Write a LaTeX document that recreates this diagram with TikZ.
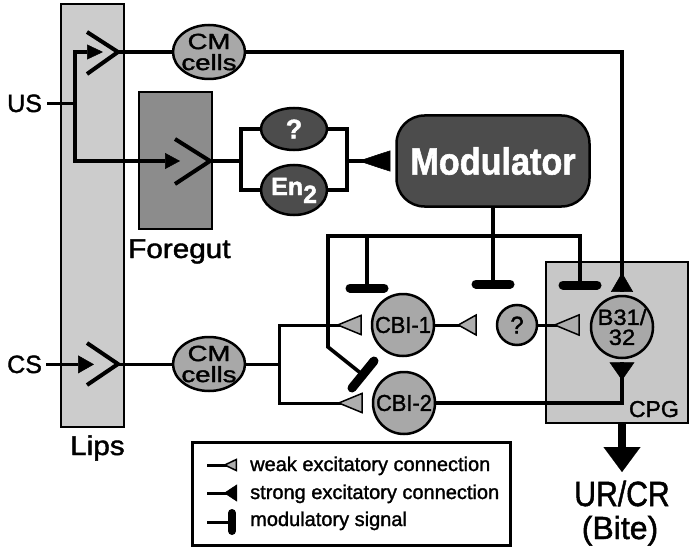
\documentclass[tikz,border=0pt]{standalone}
\usepackage{fontspec}
\setmainfont{Liberation Sans}[FakeBold=1.5]
\usetikzlibrary{arrows.meta,shapes.geometric}
\definecolor{lipsfill}{gray}{0.80}
\definecolor{cpgfill}{gray}{0.78}
\definecolor{foregutfill}{gray}{0.55}
\definecolor{cellfill}{gray}{0.66}
\definecolor{darkfill}{gray}{0.30}
\definecolor{weakfill}{gray}{0.68}
\tikzset{
  wire/.style={line width=3.6pt},
  thinwire/.style={line width=3pt},
  areabox/.style={draw, line width=2.5pt, inner sep=0pt},
  cell/.style={circle, draw, line width=2.5pt, fill=cellfill, inner sep=0pt},
  ovalcell/.style={ellipse, draw, line width=2.5pt, inner sep=0pt},
  celltext/.style={inner sep=0pt, align=center},
  lbl/.style={inner sep=0pt},
  weaksyn/.style 2 args={postaction={draw, -{Triangle[reversed, length=#1, width=#2, fill=weakfill, line width=1.5pt]}}},
  strongsyn/.style 2 args={postaction={draw, -{Triangle[reversed, length=#1, width=#2, line width=0.5pt]}}},
  feed/.style 2 args={-{Triangle[length=#1, width=#2, line width=0.5pt]}},
  modbar/.style={line width=9pt, line cap=round},
  chev/.style={line width=4pt},
}
\begin{document}
\begin{tikzpicture}[x=1pt,y=-1pt]
\useasboundingbox (0,0) rectangle (695,548);

% ---- areas
\node[areabox, fill=lipsfill, minimum width=63pt, minimum height=423pt] (lips) at (92.5,215.5) {};
\node[areabox, fill=foregutfill, minimum width=73pt, minimum height=137pt] (foregut) at (175.5,160.5) {};
\node[areabox, fill=cpgfill, minimum width=142pt, minimum height=161pt] (cpg) at (617,342.5) {};
\node[areabox, line width=3pt, minimum width=318pt, minimum height=103pt] (legend) at (351,493.5) {};

% ---- labels
\node[lbl, anchor=base west, font=\fontsize{25}{25}\selectfont] (ustxt) at (7,112) {US};
\node[lbl, anchor=base west, font=\fontsize{25}{25}\selectfont] (cstxt) at (7,373) {CS};
\node[lbl, anchor=base west, font=\fontsize{27}{27}\selectfont] (lipstxt) at (70,455) {\scalebox{1.1}[1]{Lips}};
\node[lbl, anchor=base west, font=\fontsize{27}{27}\selectfont] (fgtxt) at (128,258) {\scalebox{1.1}[1]{Foregut}};
\node[lbl, anchor=base east, font=\fontsize{23}{23}\selectfont] (cpgtxt) at (679,417) {CPG};
\node[lbl, anchor=base, font=\fontsize{35}{35}\selectfont] (urcr) at (622,506) {\scalebox{0.86}[1]{UR/CR}};
\node[lbl, anchor=base, font=\fontsize{32}{32}\selectfont] (bite) at (620,539) {(Bite)};

% ---- cells
\node[ovalcell, fill=cellfill, minimum width=72pt, minimum height=54pt] (cmtop) at (209,52) {};
\node[celltext, font=\fontsize{22}{21}\selectfont] (cmtoptxt) at (cmtop) {\scalebox{1.25}[1]{CM}\\\scalebox{1.25}[1]{cells}};
\node[ovalcell, fill=cellfill, minimum width=72pt, minimum height=54pt] (cmbot) at (209,364) {};
\node[celltext, font=\fontsize{22}{21}\selectfont] (cmbottxt) at (cmbot) {\scalebox{1.25}[1]{CM}\\\scalebox{1.25}[1]{cells}};

\node[ovalcell, fill=darkfill, minimum width=66pt, minimum height=42pt] (q1) at (294,129) {};
\node[celltext, text=white, font=\fontsize{27}{27}\selectfont\bfseries] (q1txt) at (q1) {?};
\node[ovalcell, fill=darkfill, minimum width=66pt, minimum height=50pt] (en2) at (294,190) {};
\node[lbl, anchor=base west, text=white, font=\fontsize{25}{25}\selectfont\bfseries] (en2txt) at (271,195) {En\raisebox{-8pt}{2}};

\node[draw, rounded corners=28pt, line width=2.5pt, fill=darkfill, minimum width=193pt, minimum height=91pt, inner sep=0pt, text=white, font=\fontsize{38}{38}\selectfont\bfseries] (mod) at (493,161) {\scalebox{0.9}[1]{Modulator}};

\node[cell, minimum size=62pt] (cbi1) at (403,325) {};
\node[celltext, font=\fontsize{23}{23}\selectfont] (cbi1txt) at (cbi1) {\scalebox{0.95}[1]{CBI-1}};
\node[cell, minimum size=62pt] (cbi2) at (404,403) {};
\node[celltext, font=\fontsize{23}{23}\selectfont] (cbi2txt) at (cbi2) {\scalebox{0.95}[1]{CBI-2}};
\node[cell, minimum size=40pt] (q2) at (517,325) {};
\node[celltext, font=\fontsize{24}{24}\selectfont] (q2txt) at (q2) {?};
\node[cell, minimum size=62pt] (b31) at (622,327) {};
\node[celltext, font=\fontsize{22}{20}\selectfont] (b31txt) at (b31) {\scalebox{1.08}[1]{B31/}\\\scalebox{1.08}[1]{32}};

% ---- US pathway
\coordinate (usj) at (75,103);
\coordinate (tri1) at (103,52);
\coordinate (tri2) at (180,161);
\coordinate (c1v) at (118,52);
\coordinate (c2v) at (210,161);
\draw[wire, shorten <=5pt] (ustxt.east) -- (ustxt.east -| usj);
\draw[wire, feed={16pt}{15pt}] (usj) |- (tri1);
\draw[wire, feed={15pt}{16pt}] (usj) |- (tri2);
\draw[chev] (c1v) ++(-31,-20) -- (c1v) -- ++(-31,22);
\draw[chev] (c2v) ++(-35,-22) -- (c2v) -- ++(-35,23);
\draw[wire] (c1v) -- (cmtop);
\draw[wire, strongsyn={19pt}{22pt}, shorten >=3pt] (cmtop.east) -| (b31.north);

% ---- foregut circuit
\coordinate (fgj) at (241,161);
\coordinate (fgr) at (347,161);
\draw[wire] (c2v) -- (fgj);
\draw[wire] (q1.west) -| (fgj) |- (en2.west);
\draw[wire] (q1.east) -| (fgr) |- (en2.east);
\draw[wire, strongsyn={32pt}{21pt}, shorten >=5pt] (fgr) -- (mod.west);

% ---- modulatory signals
\coordinate (mb1) at (367,288);
\coordinate (mb2) at (493,284);
\coordinate (mb3) at (580,285);
\coordinate (mbd) at (363,375);
\coordinate (mcorner) at (328,347);
\coordinate (mtop) at (328,236);
\draw[wire] (mod.south) -- (mb2);
\draw[wire] (mbd) -- (mcorner) -- (mtop) -| (mb3);
\draw[wire] (mb1 |- mtop) -- (mb1);
\draw[modbar] (mb1) ++(-17,0) -- ++(34,0);
\draw[modbar] (mb2) ++(-17,0) -- ++(34,0);
\draw[modbar] (mb3) ++(-17,0) -- ++(34,0);
\draw[modbar] (mbd) ++(-11,13) -- ++(22,-27);

% ---- CS pathway
\coordinate (tri3) at (94,364);
\coordinate (c3v) at (118,364);
\coordinate (csj) at (279,364);
\draw[wire, shorten <=4pt, feed={16pt}{18pt}] (cstxt.east) -- (cstxt.east -| tri3);
\draw[chev] (c3v) ++(-31,-21) -- (c3v) -- ++(-31,21);
\draw[thinwire] (c3v) -- (cmbot);
\draw[thinwire] (cmbot.east) -- (csj);
\draw[thinwire, weaksyn={26pt}{21pt}, shorten >=9pt] (csj) |- (cbi1.west);
\draw[thinwire, weaksyn={26pt}{21pt}, shorten >=9pt] (csj) |- (cbi2.west);
\draw[thinwire, weaksyn={20pt}{22pt}, shorten >=19pt] (cbi1.east) -- (q2.west);
\draw[thinwire, weaksyn={27pt}{22pt}, shorten >=10pt] (q2.east) -- (q2.east -| b31.west);
\draw[wire, strongsyn={18pt}{25pt}, shorten >=3pt] (cbi2.east) -| (b31.south);

% ---- output
\coordinate (outtip) at (622,472);
\draw[line width=8pt, -{Triangle[length=25pt, width=37pt, line width=0.1pt]}] (cpg.south -| b31) -- (outtip);

% ---- legend
\coordinate (lg1) at (207,465);
\coordinate (lg2) at (207,493);
\coordinate (lg3) at (207,522);
\draw[thinwire, weaksyn={14pt}{13pt}] (lg1) -- ++(30,0);
\draw[thinwire, strongsyn={13pt}{17pt}] (lg2) -- ++(30,0);
\draw[thinwire] (lg3) -- ++(23,0);
\draw[modbar, line width=8pt] (lg3) ++(25,-9) -- ++(0,18);
\node[lbl, anchor=base west, font=\fontsize{20}{20}\selectfont] (lt1) at (250,471) {weak excitatory connection};
\node[lbl, anchor=base west, font=\fontsize{20}{20}\selectfont] (lt2) at (250,499) {strong excitatory connection};
\node[lbl, anchor=base west, font=\fontsize{20}{20}\selectfont] (lt3) at (250,526) {modulatory signal};
\end{tikzpicture}
\end{document}
